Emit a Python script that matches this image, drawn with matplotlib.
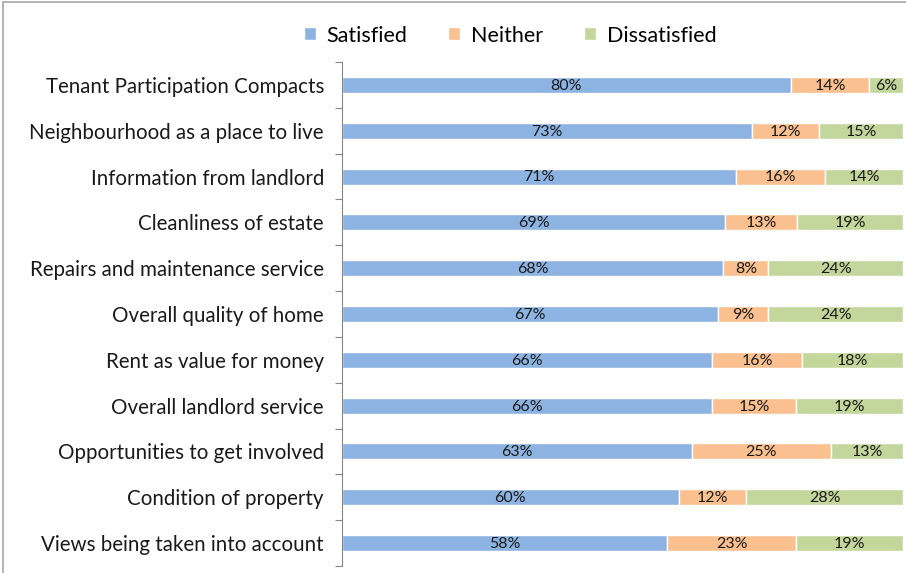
import numpy as np
import matplotlib.pyplot as plt
from matplotlib.patches import Rectangle

categories = ['Tenant Participation Compacts', 'Neighbourhood as a place to live',
              'Information from landlord', 'Cleanliness of estate',
              'Repairs and maintenance service', 'Overall quality of home',
              'Rent as value for money', 'Overall landlord service',
              'Opportunities to get involved', 'Condition of property',
              'Views being taken into account']
satisfied = [80, 73, 71, 69, 68, 67, 66, 66, 63, 60, 58]
neither = [14, 12, 16, 13, 8, 9, 16, 15, 25, 12, 23]
dissatisfied = [6, 15, 14, 19, 24, 24, 18, 19, 13, 28, 19]
series_names = ['Satisfied', 'Neither', 'Dissatisfied']
colors = ['#8DB3E2', '#FAC090', '#C3D69B']

plt.rcParams['font.family'] = ['Lato', 'DejaVu Sans']

fig = plt.figure(figsize=(9.06, 5.73), dpi=100)
fig.patches.append(Rectangle((0.003, -0.1), 1.2, 1.096, transform=fig.transFigure,
                             fill=False, edgecolor='#A6A6A6', lw=1.2))
ax = fig.add_axes([0.3775, 0.0122, 0.6192, 0.8796])

data = np.array([satisfied, neither, dissatisfied], dtype=float)
shares = data / data.sum(axis=0)   # 100% stacked
ind = np.arange(len(categories))
left = np.zeros(len(categories))
handles = []
for k in range(3):
    b = ax.barh(ind, shares[k], 0.35, left=left, color=colors[k],
                edgecolor='white', linewidth=1, label=series_names[k])
    handles.append(b)
    for i in ind:
        ax.text(left[i] + shares[k][i] / 2, i + 0.02, '%d%%' % data[k][i],
                ha='center', va='center', fontsize=11.5, color='#1a1a1a')
    left += shares[k]

ax.set_xlim(0, 1)
ax.set_ylim(len(categories) - 0.5, -0.5)
ax.set_xticks([])
ax.set_yticks(np.arange(-0.5, len(categories), 1))
ax.set_yticklabels([])
ax.set_yticks(ind, minor=True)
ax.set_yticklabels(categories, minor=True, fontsize=14.8, color='#1a1a1a')
ax.tick_params(axis='y', which='major', length=5, color='#868686', direction='out')
ax.tick_params(axis='y', which='minor', length=0, pad=13)
for s in ['top', 'right', 'bottom']:
    ax.spines[s].set_visible(False)
ax.spines['left'].set_color('#868686')

fig.legend(handles=handles, labels=series_names, loc='center', ncol=3,
           bbox_to_anchor=(0.563, 0.938), frameon=False, fontsize=15.5,
           handlelength=0.55, handleheight=0.55, handletextpad=0.5, columnspacing=1.9)

fig.savefig('out.png', dpi=100)
